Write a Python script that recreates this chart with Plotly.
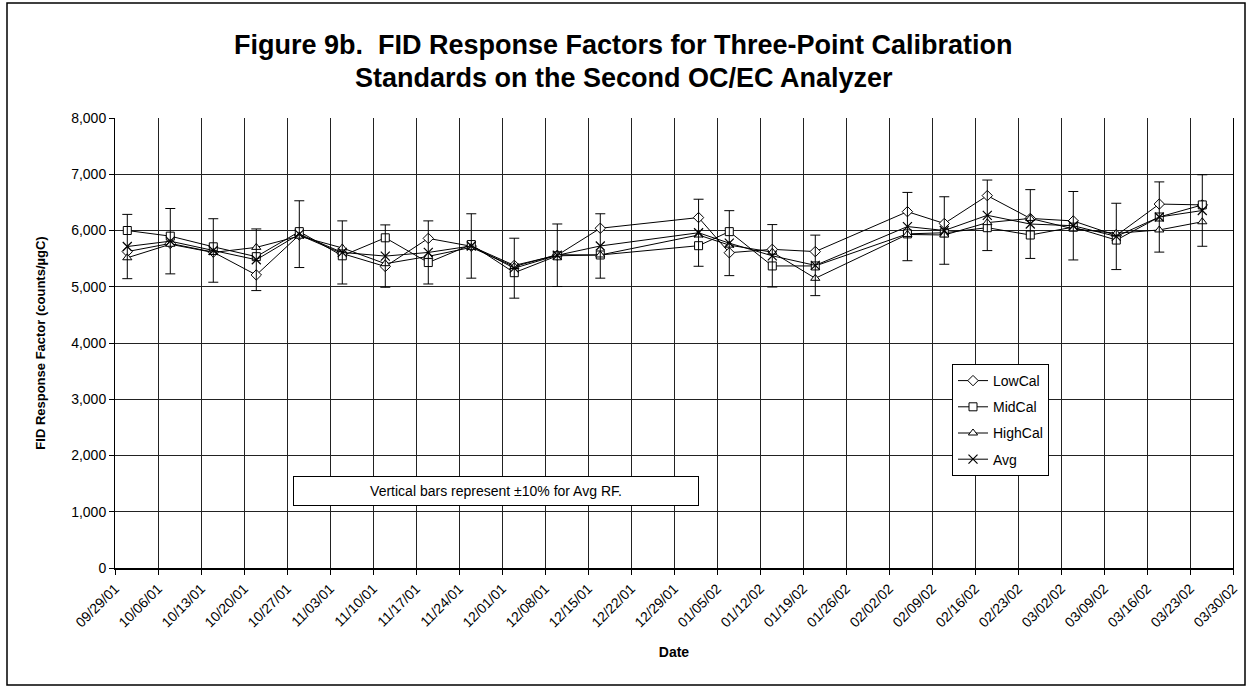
import plotly.graph_objects as go

# Calibration run dates
dates = ["2001-10-01", "2001-10-08", "2001-10-15", "2001-10-22", "2001-10-29",
         "2001-11-05", "2001-11-12", "2001-11-19", "2001-11-26", "2001-12-03",
         "2001-12-10", "2001-12-17", "2002-01-02", "2002-01-07", "2002-01-14",
         "2002-01-21", "2002-02-05", "2002-02-11", "2002-02-18", "2002-02-25",
         "2002-03-04", "2002-03-11", "2002-03-18", "2002-03-25"]

# FID response factors (counts/ugC)
low_cal = [5625, 5770, 5615, 5210, 5920, 5590, 5360, 5860, 5720, 5380, 5560, 6040,
           6230, 5605, 5665, 5625, 6335, 6125, 6620, 6215, 6170, 5910, 6470, 6455]
mid_cal = [6000, 5900, 5710, 5535, 5980, 5550, 5870, 5430, 5750, 5250, 5550, 5565,
           5730, 5980, 5370, 5370, 5940, 5960, 6050, 5920, 6060, 5830, 6240, 6455]
high_cal = [5515, 5755, 5610, 5700, 5900, 5690, 5410, 5540, 5700, 5360, 5570, 5565,
            5920, 5740, 5615, 5150, 5930, 5920, 6140, 6215, 6030, 5950, 6010, 6155]
avg_rf = [5715, 5810, 5645, 5480, 5935, 5610, 5545, 5610, 5725, 5330, 5560, 5725,
          5960, 5775, 5550, 5380, 6070, 6000, 6270, 6115, 6085, 5895, 6240, 6355]

FONT = "Liberation Sans, Arial, sans-serif"

# plot-area pixel frame used to place paper-referenced items
L, R, T, B = 115, 1233, 118, 568
W, H = 1252, 688


def px(x):
    return (x - L) / (R - L)


def py(y):
    return (B - y) / (B - T)


fig = go.Figure()

series = [
    ("LowCal", low_cal, "diamond", 8),
    ("MidCal", mid_cal, "square", 8),
    ("HighCal", high_cal, "triangle-up", 8),
]
for name, vals, sym, size in series:
    fig.add_trace(go.Scatter(
        x=dates, y=vals, name=name, mode="lines+markers", legendgroup=name,
        line=dict(color="black", width=1),
        marker=dict(symbol=sym, size=size, color="white",
                    line=dict(color="black", width=1)),
    ))

fig.add_trace(go.Scatter(
    x=dates, y=avg_rf, name="Avg", mode="lines+markers", legendgroup="Avg",
    line=dict(color="black", width=1),
    marker=dict(symbol="x-thin", size=9, color="black",
                line=dict(color="black", width=1.2)),
    error_y=dict(type="percent", value=10, color="black", thickness=1, width=5),
))

fig.update_layout(
    width=W, height=H,
    margin=dict(l=L, r=W - R, t=T, b=H - B),
    paper_bgcolor="white", plot_bgcolor="white",
    font=dict(family=FONT, color="black", size=14),
    showlegend=True,
    legend=dict(
        x=px(952), y=py(364), xanchor="left", yanchor="top",
        bgcolor="white", bordercolor="black", borderwidth=1,
        font=dict(family=FONT, size=14, color="black"),
        tracegroupgap=5, itemwidth=30,
    ),
    xaxis=dict(
        type="date",
        range=["2001-09-29", "2002-03-30"],
        tick0="2001-09-29", dtick=7 * 24 * 3600 * 1000,
        tickformat="%m/%d/%y", tickangle=-45,
        ticks="outside", ticklen=5, tickcolor="black",
        showgrid=True, gridcolor="#222", gridwidth=1,
        showline=True, linecolor="black", linewidth=2,
        tickfont=dict(family=FONT, size=14),
        title=dict(text="<b>Date</b>", font=dict(family=FONT, size=14), standoff=18),
    ),
    yaxis=dict(
        range=[0, 8000], dtick=1000, tickformat=",",
        ticks="outside", ticklen=5, tickcolor="black",
        showgrid=True, gridcolor="#222", gridwidth=1,
        showline=True, linecolor="black", linewidth=1, mirror=True,
        zeroline=False,
        tickfont=dict(family=FONT, size=14),
        title=dict(text="<b>FID Response Factor (counts/µgC)</b>",
                   font=dict(family=FONT, size=13), standoff=22),
    ),
    annotations=[
        dict(text="<b>Figure 9b.  FID Response Factors for Three-Point Calibration</b>",
             xref="paper", yref="paper", x=px(623), y=py(45),
             xanchor="center", yanchor="middle", showarrow=False,
             font=dict(family=FONT, size=27)),
        dict(text="<b>Standards on the Second OC/EC Analyzer</b>",
             xref="paper", yref="paper", x=px(624), y=py(78),
             xanchor="center", yanchor="middle", showarrow=False,
             font=dict(family=FONT, size=27)),
        dict(text="Vertical bars represent ±10% for Avg RF.",
             xref="paper", yref="paper", x=px(496), y=py(491),
             xanchor="center", yanchor="middle", showarrow=False,
             width=402, height=26, borderpad=1,
             bgcolor="white", bordercolor="black", borderwidth=1,
             font=dict(family=FONT, size=14)),
    ],
    shapes=[
        # outer chart frame
        dict(type="rect", xref="paper", yref="paper",
             x0=px(7), x1=px(1245), y0=py(685), y1=py(3),
             line=dict(color="black", width=1.5), fillcolor="rgba(0,0,0,0)",
             layer="below"),
    ],
)

fig.write_html("out.html")
